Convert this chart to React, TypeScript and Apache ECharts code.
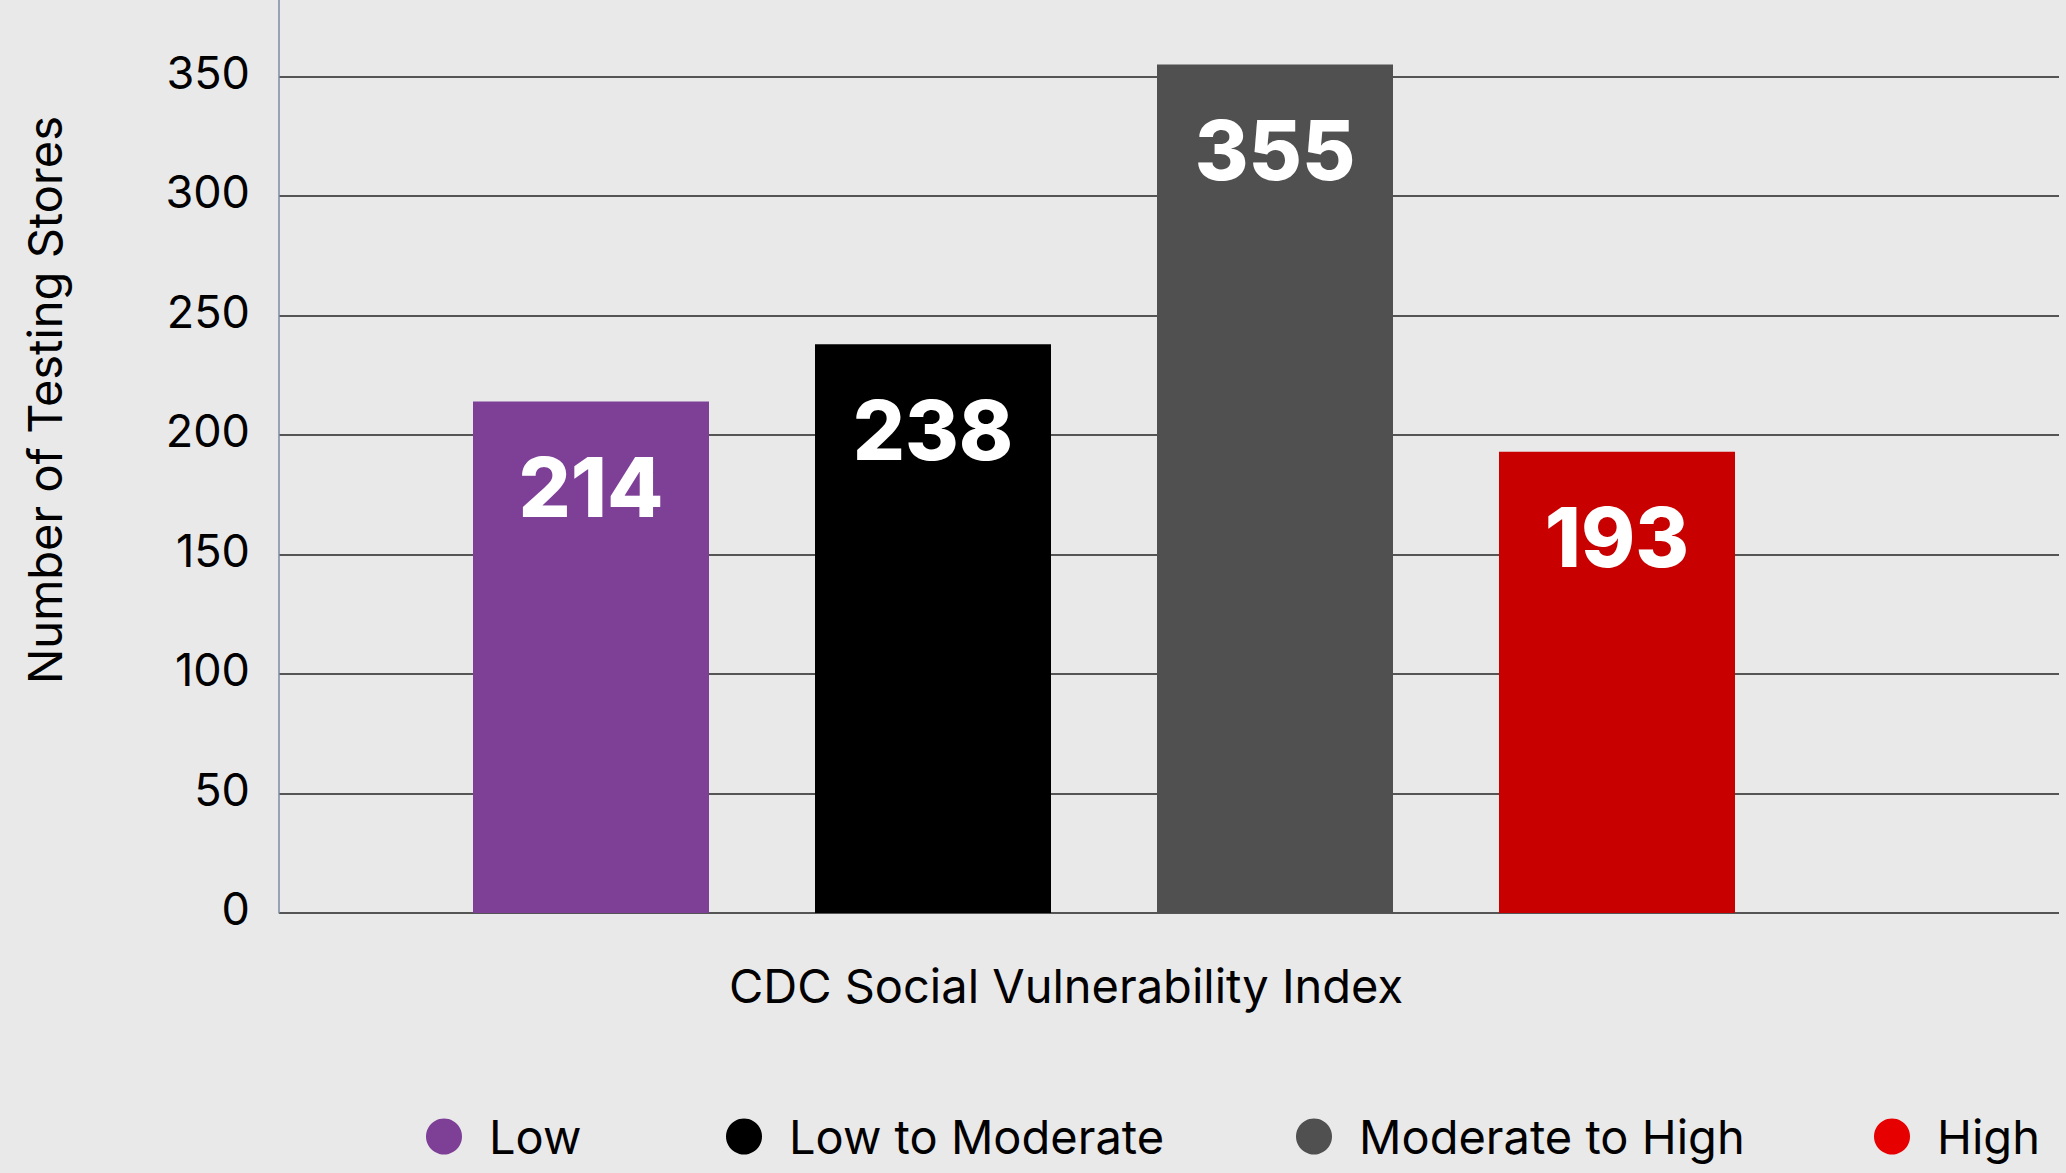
import React, { useEffect, useRef } from "react";
import * as echarts from "echarts";

const categories = ["Low", "Low to Moderate", "Moderate to High", "High"];
const values = [214, 238, 355, 193];
const barColors = ["#7e3f97", "#000000", "#505050", "#c80000"];
const legendColors = ["#7e3f97", "#000000", "#505050", "#e60000"];
const yMin = 0;
const yMax = 350;
const yInterval = 50;
const yAxisTop = 382;
const yAxisTitle = "Number of Testing Stores";
const xAxisTitle = "CDC Social Vulnerability Index";

const FONT = "Inter, 'Noto Sans', sans-serif";
const legendLefts = [426, 726, 1296, 1874];

export default function App() {
  const ref = useRef<HTMLDivElement>(null);
  useEffect(() => {
    if (!ref.current) return;
    document.body.style.margin = "0";
    const chart = echarts.init(ref.current, null, { renderer: "svg" });
    const option: any = {
      animation: false,
      backgroundColor: "#e9e9e9",
      textStyle: { fontFamily: FONT },
      grid: [
        { left: 279, right: 7, top: 0, bottom: 260 },
        { left: 279, right: 7, top: 76.7, bottom: 260 },
        { left: 420, right: 278, top: 0, bottom: 260 },
      ],
      xAxis: [
        { type: "category", gridIndex: 0, data: categories, show: false },
        { type: "category", gridIndex: 1, data: categories, show: false },
        {
          type: "category",
          gridIndex: 2,
          data: categories,
          axisLine: { show: false },
          axisTick: { show: false },
          axisLabel: { show: false },
        },
      ],
      yAxis: [
        {
          type: "value",
          gridIndex: 0,
          min: yMin,
          max: yAxisTop,
          axisLine: { show: true, lineStyle: { color: "#7b8aa3", width: 1.5 } },
          axisTick: { show: false },
          axisLabel: { show: false },
          splitLine: { show: false },
        },
        {
          type: "value",
          gridIndex: 1,
          min: yMin,
          max: yMax,
          interval: yInterval,
          axisLine: { show: false },
          axisTick: { show: false },
          axisLabel: {
            color: "#000",
            fontSize: 45,
            fontFamily: FONT,
            margin: 29,
            verticalAlign: "bottom",
            lineHeight: 9,
          },
          splitLine: { show: true, lineStyle: { color: "#555555", width: 2 } },
        },
        {
          type: "value",
          gridIndex: 2,
          min: yMin,
          max: yAxisTop,
          show: false,
          splitLine: { show: false },
        },
      ],
      legend: categories.map((name, i) => ({
        data: [{ name, itemStyle: { color: legendColors[i] } }],
        icon: "circle",
        itemWidth: 36,
        itemHeight: 36,
        left: legendLefts[i],
        top: 1113,
        padding: 0,
        textStyle: {
          color: "#000",
          fontSize: 47,
          fontFamily: FONT,
          padding: [0, 0, 0, 22],
        },
      })),
      graphic: [
        {
          type: "text",
          x: 44.5,
          y: 400,
          rotation: Math.PI / 2,
          style: {
            text: yAxisTitle,
            fill: "#000",
            fontSize: 47,
            fontFamily: FONT,
            textAlign: "center",
            textVerticalAlign: "middle",
          },
        },
        {
          type: "text",
          x: 1066,
          y: 985,
          style: {
            text: xAxisTitle,
            fill: "#000",
            fontSize: 47,
            fontFamily: FONT,
            textAlign: "center",
            textVerticalAlign: "middle",
          },
        },
      ],
      series: categories.map((name, i) => ({
        type: "bar",
        name,
        xAxisIndex: 2,
        yAxisIndex: 2,
        stack: "all",
        barWidth: 236,
        data: categories.map((_, j) => (j === i ? values[i] : "-")),
        itemStyle: { color: barColors[i] },
        label: {
          show: true,
          position: "insideTop",
          distance: 45,
          color: "#fff",
          fontSize: 82,
          fontWeight: 800,
          fontFamily: FONT,
        },
      })),
    };
    chart.setOption(option);
    return () => chart.dispose();
  }, []);
  return (
    <div
      ref={ref}
      style={{
        position: "absolute",
        left: 0,
        top: 0,
        width: 2066,
        height: 1173,
        background: "#e9e9e9",
      }}
    />
  );
}
